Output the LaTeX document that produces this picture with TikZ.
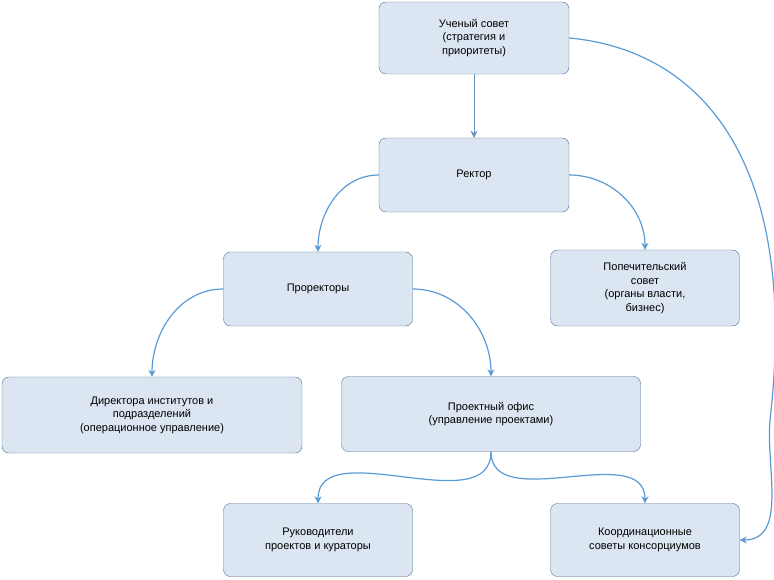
\documentclass[tikz,border=0pt]{standalone}
\usepackage{fontspec}
\setmainfont{Liberation Sans}
\usetikzlibrary{arrows.meta}
\definecolor{boxfill}{HTML}{DCE6F2}
\definecolor{boxline}{HTML}{4F6F8F}
\definecolor{arr}{HTML}{5B9BD5}
\begin{document}
\begin{tikzpicture}[x=1pt,y=-1pt,
  box/.style={draw=boxline, fill=boxfill, rounded corners=7pt, align=center,
    font=\fontsize{11}{13.5}\selectfont, inner sep=0pt},
  link/.style={draw=arr, line width=1.2pt, -{Stealth[length=7pt,width=7pt]}}]
\useasboundingbox (0,0) rectangle (774,580);
\node[box, minimum width=190pt, minimum height=72pt] (sovet) at (474,38) {Ученый совет\\(стратегия и\\приоритеты)};
\node[box, minimum width=190pt, minimum height=74pt] (rektor) at (474,175) {Ректор};
\node[box, minimum width=189pt, minimum height=74pt] (prorek) at (318,289) {Проректоры};
\node[box, minimum width=189pt, minimum height=76pt] (popech) at (645,288) {Попечительский\\совет\\(органы власти,\\бизнес)};
\node[box, minimum width=300pt, minimum height=76pt] (direkt) at (152,415) {Директора институтов и\\подразделений\\(операционное управление)};
\node[box, minimum width=299pt, minimum height=75pt] (ofis) at (491,414) {Проектный офис\\(управление проектами)};
\node[box, minimum width=189pt, minimum height=73pt] (rukov) at (318,540) {Руководители\\проектов и кураторы};
\node[box, minimum width=189pt, minimum height=73pt] (koord) at (645,540) {Координационные\\советы консорциумов};
% connectors
\draw[link, draw=arr!70!gray, line width=0.8pt] (sovet) -- (rektor);
\draw[link] (rektor.west) to[out=180,in=90] (prorek.north);
\draw[link] (rektor.east) to[out=0,in=90] (popech.north);
\draw[link] (prorek.west) to[out=180,in=90] (direkt.north);
\draw[link] (prorek.east) to[out=0,in=90] (ofis.north);
\draw[link] (ofis.south) to[out=-90,in=90] (rukov.north);
\draw[link] (ofis.south) to[out=-90,in=90] (koord.north);
\draw[link] (sovet.east) .. controls (700,50) and (800,160) .. (770,420) to[out=-95,in=0] (koord.east);
\end{tikzpicture}
\end{document}
